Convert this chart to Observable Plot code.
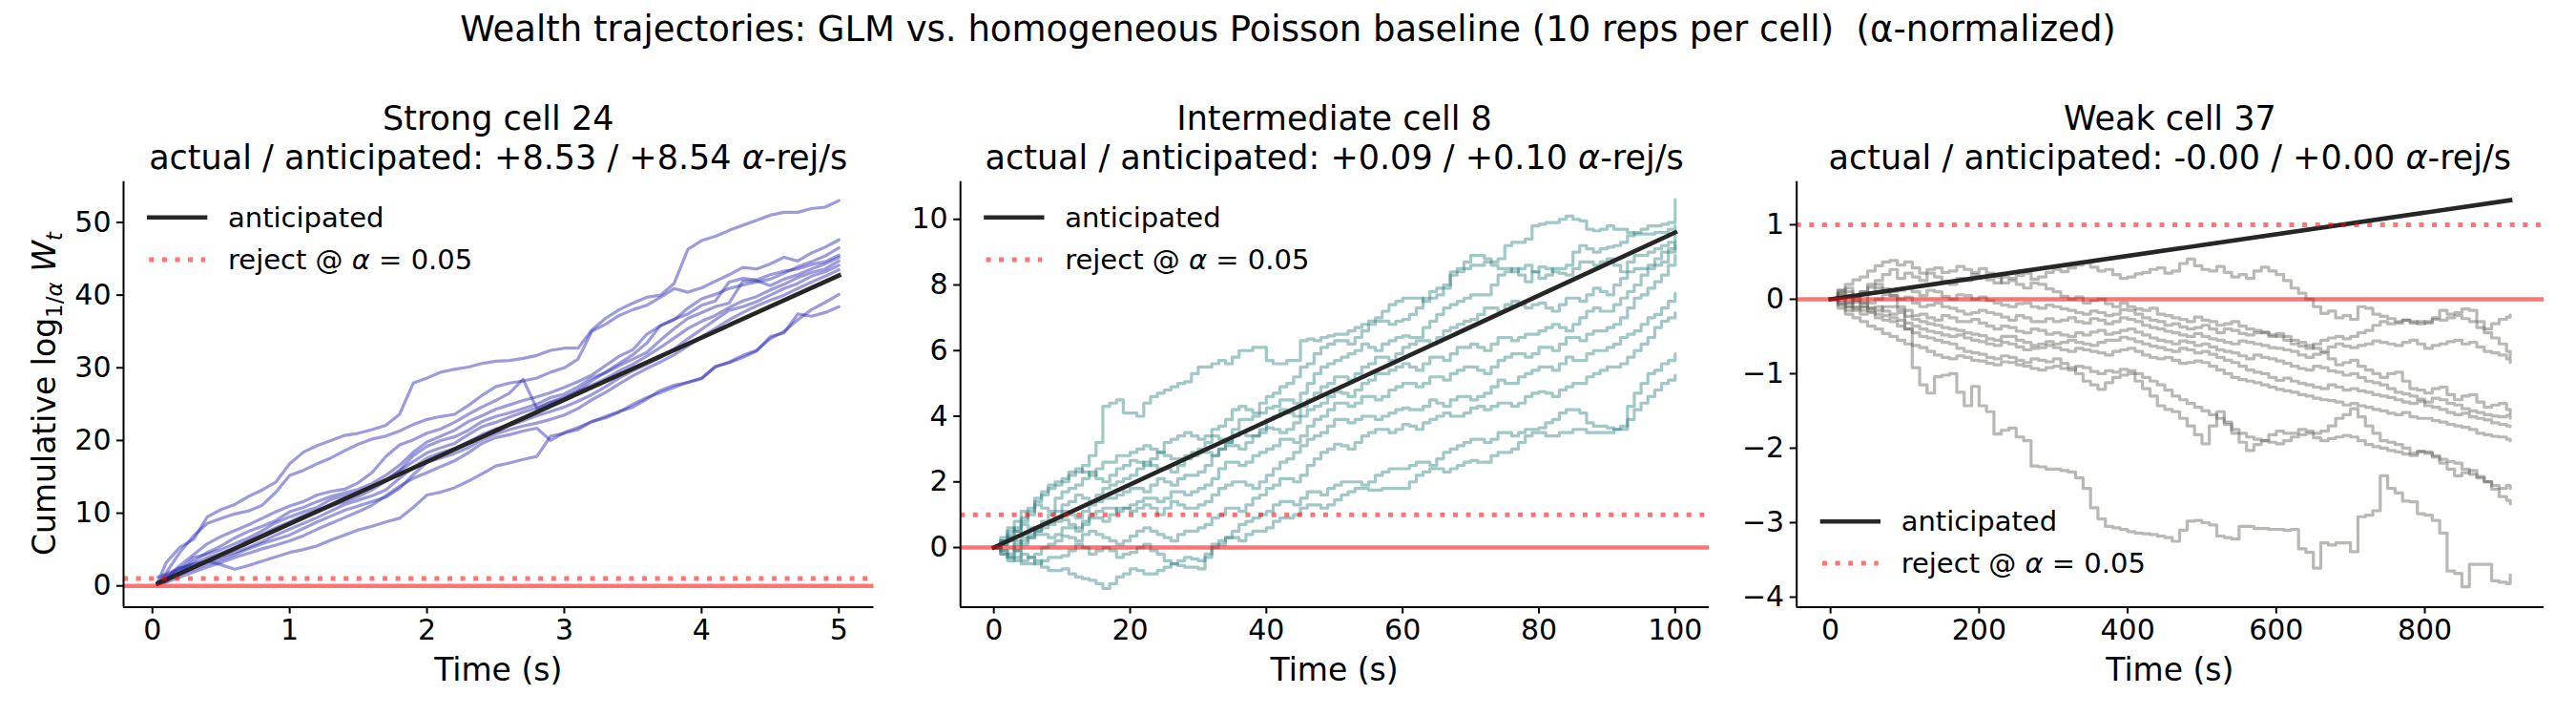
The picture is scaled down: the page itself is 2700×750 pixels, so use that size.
<!DOCTYPE html>
<html><head><meta charset="utf-8">
<script src="https://cdn.jsdelivr.net/npm/d3@7"></script>
<script src="https://cdn.jsdelivr.net/npm/@observablehq/plot@0.6"></script>
<style>
body{margin:0;background:#fff;}
#fig{position:relative;width:2700px;height:750px;background:#fff;overflow:hidden;font-family:"DejaVu Sans",sans-serif;}
.pane{position:absolute;top:0;height:750px;}
</style></head><body><div id="fig"></div>
<script>
// ---------------- data ----------------
const suptitle = "Wealth trajectories: GLM vs. homogeneous Poisson baseline (10 reps per cell)  (\u03b1-normalized)";
const cellNames = ["Strong cell 24", "Intermediate cell 8", "Weak cell 37"];
const actualRates = ["+8.53", "+0.09", "-0.00"];
const anticipatedRates = ["+8.54", "+0.10", "+0.00"];

// Strong cell 24 (time in s)
const strongT = [0.04,0.1,0.2,0.3,0.4,0.5,0.6,0.7,0.8,0.9,1.0,1.1,1.2,1.3,1.4,1.5,1.6,1.7,1.8,1.9,2.0,2.1,2.2,2.3,2.4,2.5,2.6,2.7,2.8,2.9,3.0,3.1,3.2,3.3,3.4,3.5,3.6,3.7,3.8,3.9,4.0,4.1,4.2,4.3,4.4,4.5,4.6,4.7,4.8,4.9,5.0];
const strongA = [0.5,3.2,5.3,6.4,9.5,10.5,11.2,12.3,13.2,14.3,16.8, 18.4,19.3,20.0,20.7,21.0,21.5,22.1,23.6,27.9,28.6, 29.4,29.8,30.1,30.6,30.9,31.0,31.3,31.7,32.4,32.7, 32.7,35.2,36.8,38.0,38.9,39.7,40.0,41.6,46.3,47.5, 48.1,48.9,49.6,50.3,51.0,51.4,51.4,51.9,52.1,53.0];
const strongB = [0.3,1.8,4.6,6.9,8.6,9.3,9.9,10.3,11.1,12.9,15.2, 15.9,16.8,17.6,18.6,19.5,20.2,20.6,21.3,22.2,22.9, 23.3,23.6,24.8,26.2,27.4,27.9,28.2,28.6,29.4,30.0, 31.2,35.0,36.0,37.2,38.0,38.6,39.7,40.9,40.4,41.0, 41.9,42.8,43.8,43.6,44.3,45.2,44.7,45.8,46.6,47.6];
const strongC = [0.3,1.0,2.8,4.3,5.8,6.8,7.6,8.4,9.3,10.2,11.0, 11.6,12.5,13.0,13.3,14.2,15.6,17.8,19.4,20.1,21.0, 21.6,22.5,23.6,24.6,25.5,26.5,28.4,24.4,25.2,25.8, 26.9,28.2,29.4,30.6,31.8,33.4,35.8,36.7,37.4,38.6, 39.2,41.8,42.3,42.1,42.8,43.3,43.6,44.2,44.6,45.5];
const strongD = [0.3,0.6,1.8,3.4,4.6,5.5,6.6,7.5,8.2,9.0,10.2, 10.8,11.6,12.3,12.8,13.3,14.1,15.2,16.6,18.4,19.8, 20.6,21.4,22.6,23.4,24.3,24.9,25.5,26.0,26.6,27.3, 28.1,29.0,30.3,31.6,32.5,34.6,35.8,36.6,38.2,39.5, 40.1,40.9,41.4,41.8,42.2,43.0,43.9,44.6,45.4,46.5];
const strongE = [0.3,0.9,2.2,3.9,4.4,5.0,5.8,6.6,7.6,8.7,9.5, 10.2,10.8,11.9,12.4,12.9,13.6,14.6,15.9,17.9,19.2, 20.0,20.5,21.4,22.6,23.3,23.8,24.4,25.0,25.9,26.4, 27.4,28.6,29.3,30.3,31.2,32.1,33.8,35.4,36.8,37.6, 38.4,38.9,41.9,42.0,41.3,42.2,42.8,43.6,44.3,45.2];
const strongF = [1.2,1.6,2.5,3.0,3.9,4.5,5.3,6.2,7.1,8.0,8.8, 9.7,10.4,11.0,11.6,12.3,13.2,14.4,15.8,17.1,18.3, 19.0,19.6,20.8,21.9,22.5,23.2,23.9,24.5,25.3,26.0, 26.8,27.6,28.5,29.6,30.5,31.6,32.8,34.1,35.4,36.4, 37.2,38.3,39.2,39.8,40.7,41.5,42.4,43.1,43.6,44.7];
const strongG = [0.3,1.2,2.0,2.6,3.3,4.0,4.6,5.3,6.1,7.0,7.8, 8.6,9.4,10.3,11.2,11.8,12.4,13.2,14.8,16.3,17.6, 18.3,18.9,19.8,20.8,21.6,22.1,22.7,23.4,24.0,24.6, 25.4,26.3,27.4,28.6,29.6,30.5,31.4,32.6,34.0,35.3, 36.6,37.9,38.4,39.1,40.0,40.9,41.6,42.6,43.2,44.1];
const strongH = [0.6,0.8,1.6,2.3,3.0,3.6,4.3,5.1,5.8,6.4,7.0, 7.9,8.8,9.6,10.4,11.0,11.6,12.2,13.4,15.3,17.0, 17.6,18.2,19.0,20.1,20.9,21.5,22.0,22.4,22.9,23.5, 24.4,25.6,26.6,27.8,28.9,29.9,30.8,31.8,33.0,34.3, 35.4,36.6,37.6,38.5,39.3,40.0,40.9,41.8,42.6,43.5];
const strongI = [0.3,0.5,1.2,1.9,2.6,3.2,3.9,4.5,5.1,5.6,6.2, 6.9,7.8,8.6,9.4,10.2,11.1,12.4,13.7,14.8,15.6, 16.4,17.2,18.3,19.6,20.4,20.8,21.3,21.7,20.0,21.1, 21.8,22.6,23.1,23.9,25.0,25.9,26.6,27.3,28.0,28.6, 30.1,30.8,31.7,32.4,34.0,35.0,36.6,38.0,39.0,40.1];
const strongJ = [0.3,1.4,2.4,3.0,3.4,2.9,2.3,2.8,3.4,4.0,4.6, 5.0,5.5,6.3,7.0,7.7,8.2,8.8,9.3,10.8,12.5, 12.9,13.5,14.4,15.4,16.5,16.9,17.4,17.8,20.6,21.0, 21.5,22.6,23.3,24.0,24.6,25.7,26.9,27.6,28.0,28.5, 30.2,30.7,31.4,32.3,34.3,34.8,37.4,37.1,37.6,38.4];
const strongAntT = [0.04, 5.0];
const strongAntV = [0.34, 42.7];

// Intermediate cell 8 (time in s, 1 s resolution)
const interT = [0,1,2,3,4,5,6,7,8,9, 10,11,12,13,14,15,16,17,18,19, 20,21,22,23,24,25,26,27,28,29, 30,31,32,33,34,35,36,37,38,39, 40,41,42,43,44,45,46,47,48,49, 50,51,52,53,54,55,56,57,58,59, 60,61,62,63,64,65,66,67,68,69, 70,71,72,73,74,75,76,77,78,79, 80,81,82,83,84,85,86,87,88,89, 90,91,92,93,94,95,96,97,98,99, 100];
const inter1 = [0,0.3,0.6,0.5,0.9,1.2,1.5,1.6,1.8,1.9, 2.1,2.2,2.3,2.5,2.8,3.2,4.3,4.4,4.5,4.1, 4.1,4.0,4.4,4.6,4.7,4.8,4.9,5.0,5.05,5.3, 5.5,5.5,5.6,5.7,5.6,5.8,6.0,6.0,6.1,6.1, 5.7,5.6,5.6,5.7,5.7,6.3,6.35,6.3,6.4,6.45, 6.5,6.5,6.6,6.7,6.8,6.9,7.0,7.2,7.4,7.5, 7.6,7.6,7.6,7.5,7.6,7.7,7.9,8.4,8.5,8.5, 8.6,8.6,8.7,8.7,8.8,9.2,9.3,9.3,9.4,9.8, 9.85,9.9,9.9,10.0,10.1,10.0,9.95,9.7,9.65,9.7, 9.8,9.7,9.7,9.6,9.55,9.55,9.55,9.6,9.6,9.7, 9.8];
const inter2 = [0,0.2,0.5,0.8,1.1,1.1,1.4,1.7,1.9,2.0, 2.0,2.3,2.4,2.3,2.2,2.4,2.6,2.6,2.8,2.8, 2.9,3.0,3.1,3.0,2.9,3.2,3.3,3.4,3.5,3.4, 3.3,3.4,3.6,3.7,3.9,4.2,4.3,4.2,4.1,4.4, 4.6,4.7,4.9,5.0,5.2,5.5,5.6,5.9,6.1,6.2, 6.3,6.3,6.2,6.4,6.6,6.8,6.9,6.9,6.8,6.9, 6.95,7.1,7.3,7.6,7.8,7.9,8.0,8.3,8.4,8.7, 8.9,8.9,8.8,8.6,8.5,8.5,8.4,8.5,8.6,8.4, 8.2,8.3,8.5,8.5,8.6,9.0,9.2,9.1,9.0,9.1, 9.15,9.2,9.3,9.5,9.6,9.7,9.8,9.8,9.85,9.9, 10.6];
const inter3 = [0,0.1,0.4,0.6,0.8,1.0,1.3,1.2,1.1,1.5, 1.7,1.8,1.9,2.1,2.3,2.1,2.0,2.2,2.4,2.5, 2.65,2.6,2.5,2.7,2.9,2.8,2.7,2.7,2.8,2.9, 3.0,3.2,3.4,3.3,3.2,3.6,3.9,3.9,4.0,4.1, 4.25,4.3,4.5,4.5,4.4,4.7,5.0,5.3,5.5,5.6, 5.7,5.8,5.9,6.0,6.2,6.1,6.0,6.2,6.3,6.4, 6.45,6.4,6.4,6.7,6.9,7.1,7.3,7.4,7.5,7.6, 7.7,7.7,7.7,8.0,8.3,8.4,8.5,8.3,8.1,8.4, 8.55,8.5,8.4,8.35,8.3,8.5,8.7,8.7,8.6,8.7, 8.8,8.6,8.4,8.7,8.9,8.9,9.0,9.1,9.2,9.3, 9.5];
const inter4 = [0,0.2,0.3,0.5,0.7,0.6,0.5,0.8,1.0,1.1, 1.3,1.4,1.6,1.5,1.4,1.6,1.8,1.9,2.0,2.1, 2.2,2.4,2.6,2.5,2.4,2.4,2.3,2.5,2.7,2.8, 2.9,2.9,2.8,3.0,3.2,3.4,3.5,3.4,3.4,3.6, 3.9,4.0,4.2,4.1,4.0,4.3,4.5,4.7,4.9,5.0, 5.2,5.2,5.1,5.3,5.5,5.6,5.8,5.8,5.7,5.9, 6.1,6.2,6.3,6.3,6.2,6.4,6.6,6.7,6.8,6.9, 6.95,7.1,7.3,7.3,7.2,7.4,7.5,7.4,7.3,7.4, 7.45,7.3,7.2,7.4,7.6,7.6,7.5,7.7,7.9,7.8, 7.7,8.0,8.2,8.4,8.5,8.5,8.6,8.8,9.0,9.1, 9.3];
const inter5 = [0,-0.1,-0.2,0.1,0.3,0.4,0.6,0.7,0.8,0.9, 1.1,1.0,0.9,1.1,1.3,1.4,1.5,1.5,1.6,1.7, 1.8,1.8,1.7,1.9,2.1,2.0,1.9,2.1,2.2,2.2, 2.3,2.5,2.8,3.0,3.1,3.1,3.0,3.2,3.4,3.5, 3.65,3.6,3.5,3.6,3.8,4.0,4.2,4.3,4.4,4.6, 4.75,4.7,4.6,4.8,5.0,5.1,5.3,5.3,5.4,5.5, 5.6,5.5,5.4,5.6,5.8,5.8,5.7,5.9,6.1,6.1, 6.2,6.1,6.0,6.2,6.4,6.4,6.3,6.4,6.5,6.5, 6.6,6.7,6.8,6.7,6.6,6.8,7.0,7.2,7.3,7.2, 7.2,7.4,7.6,7.8,8.0,8.3,8.5,8.6,8.7,9.0, 9.2];
const inter6 = [0,0.2,0.3,0.2,0.1,0.3,0.5,0.6,0.7,0.8, 0.85,0.7,0.6,0.8,1.0,1.1,1.2,1.2,1.1,1.2, 1.3,1.4,1.5,1.5,1.4,1.5,1.7,1.7,1.6,1.7, 1.8,1.9,2.1,2.4,2.6,2.6,2.5,2.6,2.8,2.9, 3.0,3.1,3.3,3.3,3.2,3.4,3.7,3.9,4.0,4.2, 4.4,4.4,4.3,4.4,4.6,4.6,4.5,4.6,4.8,4.9, 5.0,5.0,4.9,5.0,5.2,5.2,5.1,5.3,5.4,5.5, 5.5,5.4,5.3,5.5,5.7,5.8,5.9,5.9,5.8,5.9, 6.1,6.1,6.0,6.2,6.4,6.4,6.3,6.5,6.6,6.6, 6.7,6.8,7.0,7.3,7.6,7.7,7.9,8.1,8.3,8.6, 8.9];
const inter7 = [0,-0.1,-0.3,-0.1,0.2,0.3,0.4,0.4,0.3,0.4, 0.6,0.6,0.5,0.7,0.9,0.9,0.8,1.0,1.2,1.2, 1.1,1.2,1.3,1.2,1.0,1.2,1.4,1.3,1.2,1.2, 1.3,1.4,1.6,1.8,1.9,2.0,2.0,1.9,1.8,2.0, 2.2,2.4,2.6,2.7,2.9,3.1,3.3,3.4,3.5,3.7, 3.9,3.9,3.8,3.9,4.0,4.0,3.9,4.0,4.1,4.2, 4.25,4.2,4.2,4.3,4.5,4.4,4.3,4.5,4.6,4.6, 4.5,4.6,4.7,4.9,5.1,5.0,5.0,5.2,5.3,5.4, 5.5,5.5,5.4,5.6,5.8,5.7,5.7,5.9,6.0,6.0, 6.1,6.2,6.4,6.5,6.6,6.8,7.0,7.1,7.3,7.5, 7.75];
const inter8 = [0,0.1,0.2,-0.1,-0.4,-0.3,-0.2,0.0,0.1,0.2, 0.35,0.3,0.2,0.4,0.5,0.4,0.3,0.2,0.1,0.2, 0.35,0.5,0.6,0.5,0.4,0.3,0.2,0.4,0.5,0.5, 0.6,0.7,0.9,1.0,1.2,1.2,1.1,1.3,1.5,1.6, 1.8,1.9,2.1,2.1,2.0,2.2,2.5,2.7,2.9,3.0, 3.15,3.1,3.0,3.2,3.4,3.5,3.6,3.6,3.5,3.6, 3.75,3.7,3.6,3.8,3.9,4.0,4.1,4.0,4.0,4.1, 4.25,4.3,4.2,4.3,4.4,4.4,4.3,4.4,4.6,4.7, 4.75,4.7,4.6,4.8,4.9,5.0,5.0,5.2,5.3,5.4, 5.5,5.5,5.6,5.8,6.0,6.2,6.4,6.7,6.9,7.0, 7.15];
const inter9 = [0,-0.2,-0.4,-0.3,-0.2,-0.3,-0.5,-0.4,-0.3,-0.3, -0.25,-0.1,0.1,0.0,-0.2,-0.1,0.0,-0.1,-0.3,-0.2, -0.15,0.0,0.1,-0.1,-0.2,-0.4,-0.5,-0.4,-0.3,-0.35, -0.4,-0.2,0.0,0.1,0.3,0.5,0.7,0.8,0.9,1.0, 1.1,1.3,1.4,1.4,1.3,1.5,1.7,1.7,1.6,1.8, 1.9,2.0,2.0,2.0,1.9,2.0,2.2,2.3,2.4,2.4, 2.4,2.5,2.6,2.6,2.5,2.7,2.9,3.0,3.1,3.2, 3.3,3.3,3.2,3.3,3.5,3.5,3.4,3.5,3.6,3.6, 3.65,3.8,3.9,4.1,4.2,4.2,4.1,3.8,3.7,3.7, 3.65,3.6,3.6,4.3,4.7,5.0,5.3,5.4,5.6,5.7, 5.9];
const inter10 = [0,-0.2,-0.3,-0.4,-0.5,-0.5,-0.4,-0.6,-0.7,-0.7, -0.65,-0.8,-0.9,-0.95,-1.0,-1.1,-1.25,-1.1,-0.9,-0.8, -0.65,-0.7,-0.8,-0.8,-0.7,-0.6,-0.5,-0.55,-0.6,-0.6, -0.65,-0.3,0.1,0.2,0.3,0.3,0.2,0.4,0.5,0.5, 0.6,0.8,0.9,0.9,1.0,1.2,1.3,1.3,1.2,1.3, 1.45,1.6,1.7,1.8,1.8,1.75,1.75,1.8,1.8,1.8, 1.8,2.0,2.2,2.3,2.4,2.4,2.3,2.4,2.5,2.6, 2.65,2.6,2.6,2.8,2.9,2.9,3.0,3.2,3.4,3.5, 3.5,3.4,3.4,3.5,3.5,3.6,3.6,3.5,3.5,3.5, 3.5,3.6,3.7,3.9,4.2,4.4,4.6,4.8,5.0,5.1, 5.25];
const interAntT = [0, 100];
const interAntV = [0, 9.6];

// Weak cell 37 (time in s, 10 s resolution)
const weakT = [0,10,20,30,40,50,60,70,80,90, 100,110,120,130,140,150,160,170,180,190, 200,210,220,230,240,250,260,270,280,290, 300,310,320,330,340,350,360,370,380,390, 400,410,420,430,440,450,460,470,480,490, 500,510,520,530,540,550,560,570,580,590, 600,610,620,630,640,650,660,670,680,690, 700,710,720,730,740,750,760,770,780,790, 800,810,820,830,840,850,860,870,880,890, 900,910,915];
const weak1 = [0,0.08,0.15,0.05,0.1,0.2,0.25,0.33,0.4,0.28, 0.35,0.3,0.25,0.35,0.3,0.24,0.2,0.28,0.25,0.33, 0.3,0.26,0.22,0.3,0.28,0.32,0.35,0.27,0.3,0.36, 0.4,0.37,0.42,0.46,0.49,0.43,0.38,0.4,0.33,0.28, 0.3,0.34,0.36,0.4,0.42,0.35,0.38,0.48,0.54,0.45, 0.4,0.38,0.44,0.36,0.3,0.33,0.28,0.38,0.43,0.38, 0.33,0.25,0.15,0.08,0.0,-0.1,-0.19,-0.16,-0.25,-0.22, -0.27,-0.1,-0.12,-0.2,-0.23,-0.26,-0.3,-0.28,-0.32,-0.3, -0.32,-0.25,-0.15,-0.2,-0.18,-0.13,-0.15,-0.3,-0.4,-0.33, -0.27,-0.24,-0.21];
const weak2 = [0,0.12,0.2,0.26,0.3,0.38,0.45,0.5,0.52,0.46, 0.5,0.42,0.35,0.4,0.42,0.36,0.38,0.44,0.4,0.36, 0.41,0.35,0.3,0.22,0.25,0.2,0.15,0.22,0.2,0.14, 0.1,0.04,0.0,0.03,-0.05,-0.02,0.0,-0.06,-0.1,-0.05, -0.1,-0.13,-0.15,-0.12,-0.2,-0.22,-0.25,-0.27,-0.3,-0.24, -0.28,-0.3,-0.35,-0.33,-0.3,-0.36,-0.4,-0.42,-0.45,-0.48, -0.5,-0.55,-0.6,-0.63,-0.66,-0.6,-0.55,-0.52,-0.5,-0.53, -0.5,-0.45,-0.42,-0.35,-0.3,-0.33,-0.32,-0.28,-0.3,-0.33, -0.3,-0.27,-0.28,-0.25,-0.22,-0.26,-0.3,-0.38,-0.45,-0.52, -0.6,-0.7,-0.77];
const weak3 = [0,0.05,-0.05,0.04,0.1,0.16,0.2,0.14,0.1,0.12, 0.15,0.1,0.05,0.12,0.1,0.04,0.0,0.06,0.05,0.0, 0.03,-0.02,-0.05,-0.08,-0.1,-0.06,-0.05,-0.1,-0.12,-0.08, -0.1,-0.13,-0.15,-0.18,-0.2,-0.16,-0.18,-0.22,-0.2,-0.14, -0.15,-0.2,-0.25,-0.28,-0.3,-0.35,-0.33,-0.37,-0.4,-0.38, -0.35,-0.4,-0.45,-0.4,-0.42,-0.46,-0.48,-0.45,-0.44,-0.5, -0.46,-0.5,-0.55,-0.58,-0.62,-0.66,-0.7,-0.64,-0.6,-0.63, -0.65,-0.62,-0.6,-0.56,-0.58,-0.6,-0.62,-0.58,-0.55,-0.6, -0.66,-0.62,-0.6,-0.57,-0.55,-0.6,-0.58,-0.64,-0.7,-0.72, -0.75,-0.8,-0.85];
const weak4 = [0,0.08,0.05,-0.04,-0.1,-0.05,0.0,0.06,0.05,0.0, 0.03,-0.05,-0.1,-0.08,-0.05,-0.1,-0.12,-0.16,-0.2,-0.18, -0.15,-0.18,-0.2,-0.24,-0.28,-0.22,-0.25,-0.3,-0.3,-0.26, -0.3,-0.28,-0.25,-0.3,-0.32,-0.26,-0.28,-0.33,-0.3,-0.25, -0.27,-0.3,-0.35,-0.38,-0.4,-0.43,-0.45,-0.48,-0.5,-0.46, -0.5,-0.53,-0.55,-0.58,-0.6,-0.56,-0.58,-0.6,-0.62,-0.65, -0.66,-0.68,-0.7,-0.75,-0.78,-0.74,-0.72,-0.8,-0.88,-0.85, -0.82,-0.9,-0.95,-1.0,-1.05,-1.0,-0.98,-1.1,-1.2,-1.22, -1.26,-1.2,-1.18,-1.28,-1.35,-1.3,-1.28,-1.38,-1.45,-1.42, -1.4,-1.48,-1.53];
const weak5 = [0,-0.06,-0.1,-0.02,-0.05,-0.12,-0.15,-0.1,-0.1,-0.14, -0.15,-0.22,-0.2,-0.25,-0.28,-0.22,-0.25,-0.3,-0.3,-0.27, -0.32,-0.36,-0.4,-0.36,-0.38,-0.43,-0.45,-0.4,-0.42,-0.47, -0.45,-0.48,-0.5,-0.45,-0.48,-0.44,-0.42,-0.47,-0.45,-0.42, -0.4,-0.44,-0.48,-0.52,-0.55,-0.57,-0.6,-0.56,-0.58,-0.62, -0.6,-0.64,-0.68,-0.7,-0.72,-0.76,-0.8,-0.75,-0.78,-0.8, -0.83,-0.86,-0.9,-0.93,-0.95,-0.9,-0.92,-0.96,-0.98,-1.02, -1.0,-1.05,-1.1,-1.12,-1.15,-1.2,-1.25,-1.27,-1.3,-1.34, -1.38,-1.33,-1.35,-1.4,-1.42,-1.47,-1.5,-1.52,-1.55,-1.57, -1.58,-1.56,-1.6];
const weak6 = [0,0.03,-0.05,-0.1,-0.15,-0.12,-0.1,-0.16,-0.2,-0.18, -0.23,-0.27,-0.3,-0.33,-0.35,-0.38,-0.4,-0.42,-0.45,-0.47, -0.49,-0.53,-0.55,-0.5,-0.5,-0.55,-0.58,-0.62,-0.6,-0.57, -0.6,-0.58,-0.55,-0.58,-0.6,-0.62,-0.58,-0.55,-0.55,-0.51, -0.53,-0.57,-0.6,-0.63,-0.65,-0.68,-0.7,-0.66,-0.68,-0.72, -0.7,-0.74,-0.78,-0.82,-0.85,-0.9,-0.95,-0.98,-1.0,-1.05, -1.09,-1.06,-1.1,-1.13,-1.15,-1.18,-1.2,-1.15,-1.18,-1.22, -1.2,-1.23,-1.25,-1.28,-1.3,-1.32,-1.35,-1.38,-1.4,-1.37, -1.43,-1.45,-1.48,-1.52,-1.55,-1.53,-1.58,-1.6,-1.62,-1.66, -1.68,-1.7,-1.71];
const weak7 = [0,-0.08,-0.15,-0.12,-0.1,-0.16,-0.2,-0.22,-0.25,-0.28, -0.32,-0.36,-0.4,-0.43,-0.45,-0.48,-0.5,-0.48,-0.52,-0.55, -0.57,-0.6,-0.62,-0.58,-0.6,-0.64,-0.68,-0.66,-0.65,-0.62, -0.65,-0.68,-0.7,-0.66,-0.68,-0.7,-0.72,-0.75,-0.7,-0.68, -0.66,-0.7,-0.75,-0.78,-0.8,-0.78,-0.82,-0.86,-0.85,-0.83, -0.85,-0.9,-0.95,-1.0,-1.05,-1.08,-1.1,-1.12,-1.15,-1.18, -1.21,-1.23,-1.25,-1.28,-1.3,-1.33,-1.35,-1.36,-1.38,-1.42, -1.4,-1.43,-1.45,-1.48,-1.5,-1.53,-1.55,-1.52,-1.58,-1.6, -1.6,-1.63,-1.65,-1.68,-1.7,-1.72,-1.75,-1.8,-1.82,-1.84, -1.85,-1.88,-1.9];
const weak8 = [0,-0.04,-0.1,-0.15,-0.2,-0.18,-0.25,-0.28,-0.3,-0.36, -0.4,-0.45,-0.5,-0.52,-0.55,-0.58,-0.6,-0.66,-0.7,-0.72, -0.74,-0.78,-0.8,-0.76,-0.78,-0.82,-0.85,-0.8,-0.82,-0.84, -0.8,-0.86,-0.92,-1.0,-1.1,-1.15,-1.21,-1.12,-1.05,-1.02, -1.0,-1.1,-1.2,-1.3,-1.43,-1.48,-1.51,-1.6,-1.7,-1.82, -1.94,-1.7,-1.51,-1.65,-1.8,-1.92,-2.03,-1.95,-1.9,-1.82, -1.77,-1.8,-1.8,-1.75,-1.77,-1.8,-1.77,-1.7,-1.6,-1.55, -1.47,-1.58,-1.7,-1.8,-1.9,-1.92,-1.95,-2.0,-2.07,-2.04, -2.05,-2.12,-2.2,-2.28,-2.37,-2.33,-2.3,-2.38,-2.45,-2.5, -2.54,-2.5,-2.54];
const weak9 = [0,-0.12,-0.2,-0.25,-0.3,-0.36,-0.4,-0.46,-0.5,-0.55, -0.6,-0.62,-0.65,-0.7,-0.75,-0.78,-0.8,-0.76,-0.78,-0.82, -0.83,-0.86,-0.88,-0.84,-0.85,-0.88,-0.9,-0.93,-0.95,-0.92, -0.9,-0.93,-0.95,-0.9,-0.92,-0.97,-1.0,-0.96,-0.98,-0.94, -0.96,-1.0,-1.05,-1.1,-1.15,-1.22,-1.3,-1.35,-1.4,-1.45, -1.5,-1.55,-1.6,-1.68,-1.75,-1.8,-1.85,-1.88,-1.9,-1.92, -1.94,-1.9,-1.85,-1.82,-1.8,-1.86,-1.9,-1.87,-1.85,-1.83, -1.85,-1.9,-1.95,-1.98,-2.0,-2.03,-2.05,-2.08,-2.1,-2.05, -2.07,-2.1,-2.15,-2.18,-2.2,-2.28,-2.35,-2.4,-2.45,-2.55, -2.65,-2.7,-2.75];
const weak10 = [0,0.12,0.1,0.02,-0.05,0.08,0.15,0.1,0.05,-0.1, -0.4,-0.92,-1.15,-1.26,-1.04,-1.02,-1.0,-1.25,-1.43,-1.17, -1.43,-1.51,-1.81,-1.76,-1.73,-1.85,-1.9,-2.24,-2.25,-2.28, -2.28,-2.3,-2.32,-2.4,-2.54,-2.8,-2.95,-3.05,-3.07,-3.09, -3.12,-3.14,-3.15,-3.16,-3.18,-3.2,-3.25,-3.1,-2.98,-2.97, -3.0,-3.03,-3.18,-3.2,-3.22,-3.05,-3.05,-3.08,-3.08,-3.09, -3.09,-3.1,-3.09,-3.35,-3.4,-3.61,-3.27,-3.3,-3.27,-3.27, -3.39,-2.92,-2.9,-2.84,-2.37,-2.54,-2.6,-2.71,-2.72,-2.88, -2.9,-2.97,-3.14,-3.65,-3.68,-3.86,-3.56,-3.56,-3.56,-3.78, -3.8,-3.82,-3.7];
const weakAntT = [0, 915];
const weakAntV = [0, 1.33];

const rejectLevel = 1;   // log_{1/alpha}(1/alpha)
const nullLevel = 0;

// ticks
const strongXTicks = [0,1,2,3,4,5];
const strongYTicks = [0,10,20,30,40,50];
const interXTicks = [0,20,40,60,80,100];
const interYTicks = [0,2,4,6,8,10];
const weakXTicks = [0,200,400,600,800];
const weakYTicks = [-4,-3,-2,-1,0,1];

// ---------------- drawing ----------------
const FRAME_TOP = 189.7, FRAME_BOTTOM = 635.6, H = 750;
const fmt = d => d < 0 ? "\u2212" + Math.abs(d) : String(d);
const fig = d3.select("#fig");

function panel(o) {
  const marks = [];
  for (const r of o.reps) {
    marks.push(Plot.line(o.t, {x: d => d, y: (d, i) => r[i], stroke: o.color, strokeOpacity: o.alpha,
      strokeWidth: 3.2, curve: o.curve, strokeLinejoin: "round"}));
  }
  marks.push(Plot.line(o.antT, {x: d => d, y: (d, i) => o.antV[i], stroke: "#262626", strokeWidth: 4.6, strokeLinecap: "square"}));
  marks.push(Plot.ruleY([nullLevel], {stroke: "#ff0000", strokeOpacity: 0.55, strokeWidth: 4.6}));
  marks.push(Plot.ruleY([rejectLevel], {stroke: "#ff0000", strokeOpacity: 0.55, strokeWidth: 5, strokeDasharray: "5,8.6"}));
  marks.push(Plot.ruleX([o.xDomain[0]], {stroke: "#000", strokeWidth: 2}));
  marks.push(Plot.ruleY([o.yDomain[0]], {stroke: "#000", strokeWidth: 2}));
  marks.push(Plot.axisX(o.xTicks, {tickSize: 7, tickPadding: 6, fontSize: 30, tickFormat: fmt, strokeWidth: 2, label: null}));
  marks.push(Plot.axisY(o.yTicks, {tickSize: 7, tickPadding: 6, fontSize: 30, tickFormat: fmt, strokeWidth: 2, label: null}));
  const chart = Plot.plot({
    width: o.width, height: H,
    marginLeft: o.ml, marginRight: o.mr, marginTop: FRAME_TOP, marginBottom: H - FRAME_BOTTOM,
    x: {domain: o.xDomain}, y: {domain: o.yDomain},
    style: {background: "transparent", overflow: "visible", fontFamily: "DejaVu Sans", color: "#000"},
    marks
  });
  const div = fig.append("div").attr("class", "pane").style("left", o.left + "px").style("width", o.width + "px");
  div.node().appendChild(chart);
}

panel({left: 0, width: 930, ml: 129, mr: 14.5, xDomain: [-0.21, 5.255], yDomain: [-2.94, 55.62],
  xTicks: strongXTicks, yTicks: strongYTicks, t: strongT,
  reps: [strongA, strongB, strongC, strongD, strongE, strongF, strongG, strongH, strongI, strongJ],
  color: "#2424b4", alpha: 0.45, curve: "linear", antT: strongAntT, antV: strongAntV});
panel({left: 930, width: 870, ml: 76.2, mr: 9, xDomain: [-4.9, 105], yDomain: [-1.82, 11.15],
  xTicks: interXTicks, yTicks: interYTicks, t: interT,
  reps: [inter1, inter2, inter3, inter4, inter5, inter6, inter7, inter8, inter9, inter10],
  color: "#207a7a", alpha: 0.42, curve: "step-after", antT: interAntT, antV: interAntV});
panel({left: 1800, width: 900, ml: 82.7, mr: 34, xDomain: [-45.5, 960.5], yDomain: [-4.136, 1.58],
  xTicks: weakXTicks, yTicks: weakYTicks, t: weakT,
  reps: [weak1, weak2, weak3, weak4, weak5, weak6, weak7, weak8, weak9, weak10],
  color: "#58554f", alpha: 0.42, curve: "step-after", antT: weakAntT, antV: weakAntV});

// ---------------- text overlay: titles, labels, legends ----------------
const ov = fig.append("svg").attr("width", 2700).attr("height", 750)
  .style("position", "absolute").style("left", 0).style("top", 0)
  .attr("font-family", "DejaVu Sans").attr("fill", "#000");

ov.append("text").attr("x", 1350).attr("y", 43).attr("text-anchor", "middle").attr("font-size", 37)
  .attr("xml:space", "preserve").style("white-space", "pre").text(suptitle);

const frames = [[129, 915.5], [1006.2, 1791], [1882.7, 2666]];
frames.forEach(([l, r], i) => {
  const cx = (l + r) / 2;
  ov.append("text").attr("x", cx).attr("y", 136).attr("text-anchor", "middle").attr("font-size", 35).text(cellNames[i]);
  const t2 = ov.append("text").attr("x", cx).attr("y", 177).attr("text-anchor", "middle").attr("font-size", 35);
  t2.append("tspan").text(`actual / anticipated: ${actualRates[i]} / ${anticipatedRates[i]} `);
  t2.append("tspan").attr("font-style", "italic").text("\u03b1");
  t2.append("tspan").text("-rej/s");
  ov.append("text").attr("x", cx).attr("y", 713).attr("text-anchor", "middle").attr("font-size", 33).text("Time (s)");

  // legend
  const lower = i === 2;
  const y1 = lower ? 546.3 : 227.7, y2 = lower ? 590 : 272;
  ov.append("line").attr("x1", l + 27.3).attr("x2", l + 86).attr("y1", y1).attr("y2", y1)
    .attr("stroke", "#262626").attr("stroke-width", 4.6).attr("stroke-linecap", "square");
  ov.append("line").attr("x1", l + 27.3).attr("x2", l + 86).attr("y1", y2).attr("y2", y2)
    .attr("stroke", "#ff0000").attr("stroke-opacity", 0.55).attr("stroke-width", 5).attr("stroke-dasharray", "5,8.6");
  ov.append("text").attr("x", l + 110).attr("y", y1 + 10).attr("font-size", 29).text("anticipated");
  const lt = ov.append("text").attr("x", l + 110).attr("y", y2 + 10).attr("font-size", 29);
  lt.append("tspan").text("reject @ ");
  lt.append("tspan").attr("font-style", "italic").text("\u03b1");
  lt.append("tspan").text(" = 0.05");
});

// y label with math
const yl = ov.append("text").attr("transform", "translate(58,412.6) rotate(-90)").attr("text-anchor", "middle").attr("font-size", 33);
yl.append("tspan").text("Cumulative log");
yl.append("tspan").attr("font-size", 23).attr("dy", 7).text("1/");
yl.append("tspan").attr("font-size", 23).attr("font-style", "italic").text("\u03b1");
yl.append("tspan").attr("dy", -7).text(" ");
yl.append("tspan").attr("font-style", "italic").text("W");
yl.append("tspan").attr("font-size", 23).attr("font-style", "italic").attr("dy", 7).text("t");
</script></body></html>
